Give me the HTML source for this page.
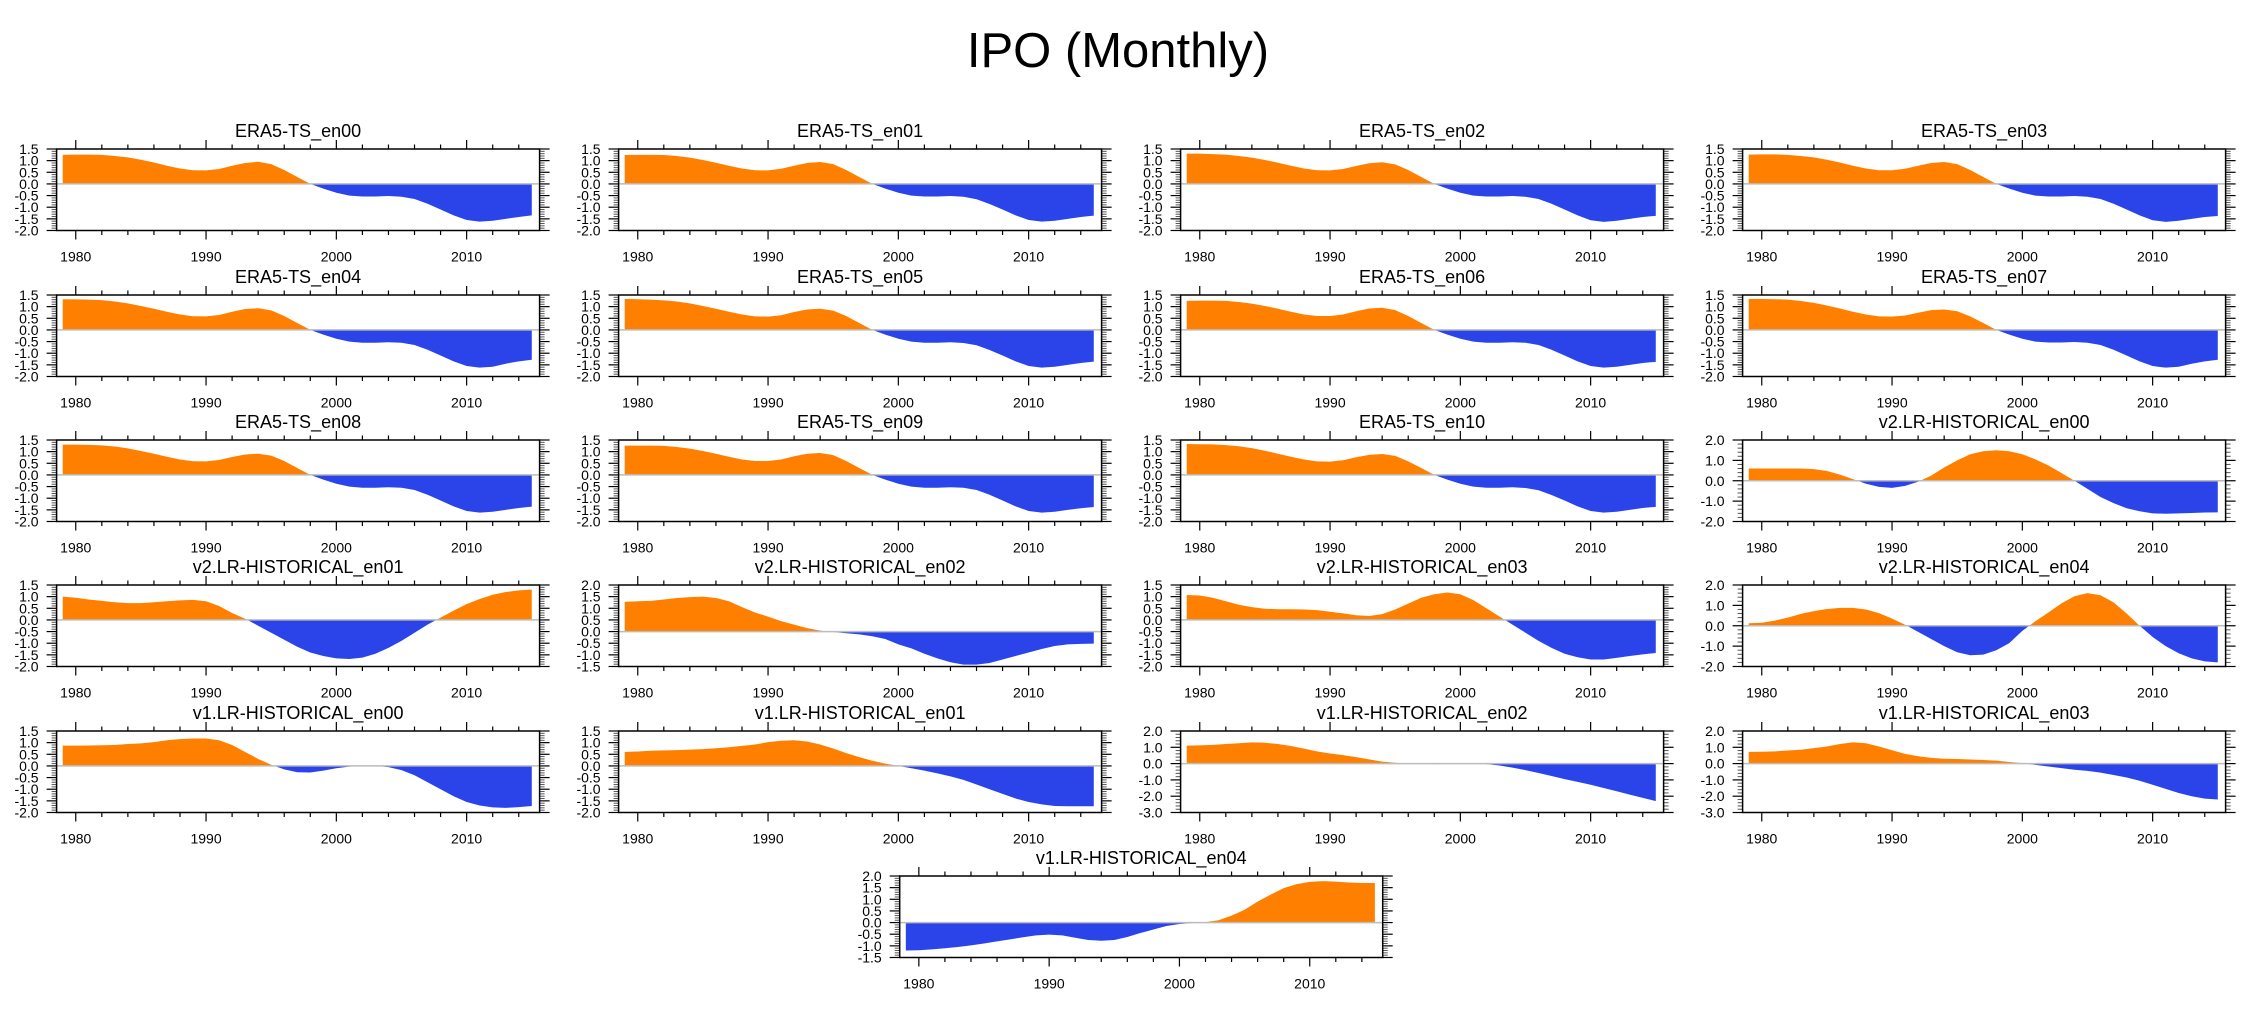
<!DOCTYPE html>
<html><head><meta charset="utf-8"><title>IPO (Monthly)</title>
<style>
html,body{margin:0;padding:0;background:#fff;}
svg{display:block;font-family:"Liberation Sans",Arial,sans-serif;}
</style></head>
<body>
<svg id="chart" xmlns="http://www.w3.org/2000/svg" width="2252" height="1016" viewBox="0 0 2252 1016">
<rect x="0" y="0" width="2252" height="1016" fill="#fff"/>
<text x="1118" y="67" font-size="49" text-anchor="middle" fill="#000">IPO (Monthly)</text>
</svg>
<script>
const years=[1979,1980,1981,1982,1983,1984,1985,1986,1987,1988,1989,1990,1991,1992,1993,1994,1995,1996,1997,1998,1999,2000,2001,2002,2003,2004,2005,2006,2007,2008,2009,2010,2011,2012,2013,2014,2015];
const xTickYears=[1980,1990,2000,2010];
const era5_en00=[1.25,1.26,1.26,1.25,1.2,1.14,1.04,0.92,0.78,0.66,0.59,0.58,0.64,0.78,0.9,0.95,0.85,0.6,0.3,0.0,-0.2,-0.38,-0.5,-0.54,-0.54,-0.52,-0.55,-0.65,-0.85,-1.1,-1.35,-1.55,-1.62,-1.58,-1.5,-1.42,-1.35];
const era5_en01=[1.24,1.25,1.25,1.24,1.2,1.13,1.03,0.91,0.78,0.66,0.59,0.58,0.65,0.78,0.9,0.94,0.85,0.6,0.3,0.0,-0.2,-0.38,-0.5,-0.54,-0.54,-0.52,-0.55,-0.66,-0.86,-1.1,-1.35,-1.55,-1.62,-1.58,-1.5,-1.42,-1.36];
const era5_en02=[1.3,1.3,1.28,1.26,1.2,1.13,1.03,0.91,0.78,0.66,0.59,0.58,0.64,0.77,0.89,0.93,0.84,0.6,0.3,0.0,-0.2,-0.38,-0.5,-0.54,-0.54,-0.52,-0.55,-0.65,-0.85,-1.1,-1.35,-1.56,-1.63,-1.58,-1.5,-1.42,-1.37];
const era5_en03=[1.26,1.27,1.27,1.25,1.2,1.14,1.04,0.92,0.78,0.66,0.59,0.59,0.65,0.78,0.9,0.94,0.85,0.6,0.3,0.0,-0.2,-0.38,-0.5,-0.54,-0.54,-0.52,-0.55,-0.65,-0.85,-1.1,-1.35,-1.56,-1.63,-1.58,-1.5,-1.42,-1.38];
const era5_en04=[1.32,1.31,1.3,1.28,1.22,1.14,1.03,0.91,0.78,0.66,0.59,0.58,0.64,0.78,0.9,0.93,0.84,0.6,0.3,0.0,-0.2,-0.38,-0.5,-0.55,-0.55,-0.53,-0.55,-0.65,-0.85,-1.1,-1.35,-1.55,-1.62,-1.58,-1.45,-1.35,-1.28];
const era5_en05=[1.33,1.32,1.3,1.27,1.22,1.14,1.03,0.91,0.78,0.66,0.58,0.57,0.63,0.77,0.88,0.91,0.83,0.6,0.3,0.0,-0.2,-0.38,-0.5,-0.55,-0.55,-0.53,-0.56,-0.66,-0.86,-1.1,-1.35,-1.55,-1.62,-1.58,-1.5,-1.42,-1.36];
const era5_en06=[1.25,1.26,1.26,1.25,1.2,1.13,1.03,0.91,0.78,0.66,0.6,0.6,0.66,0.8,0.92,0.95,0.85,0.6,0.3,0.0,-0.2,-0.38,-0.5,-0.55,-0.55,-0.53,-0.55,-0.65,-0.85,-1.1,-1.35,-1.55,-1.62,-1.58,-1.5,-1.42,-1.37];
const era5_en07=[1.33,1.33,1.32,1.3,1.24,1.16,1.05,0.92,0.78,0.66,0.58,0.57,0.62,0.74,0.85,0.88,0.8,0.58,0.3,0.0,-0.2,-0.38,-0.5,-0.54,-0.54,-0.52,-0.55,-0.65,-0.85,-1.1,-1.35,-1.55,-1.62,-1.58,-1.45,-1.35,-1.28];
const era5_en08=[1.3,1.3,1.29,1.27,1.22,1.14,1.03,0.91,0.78,0.66,0.59,0.58,0.64,0.77,0.88,0.91,0.83,0.6,0.3,0.0,-0.2,-0.38,-0.5,-0.55,-0.55,-0.53,-0.55,-0.65,-0.85,-1.1,-1.35,-1.55,-1.62,-1.58,-1.5,-1.42,-1.36];
const era5_en09=[1.26,1.26,1.26,1.25,1.2,1.13,1.03,0.91,0.78,0.66,0.6,0.6,0.66,0.8,0.91,0.94,0.85,0.6,0.3,0.0,-0.2,-0.38,-0.5,-0.55,-0.55,-0.53,-0.55,-0.65,-0.85,-1.1,-1.35,-1.55,-1.62,-1.58,-1.5,-1.43,-1.38];
const era5_en10=[1.33,1.32,1.31,1.28,1.23,1.15,1.04,0.91,0.78,0.66,0.58,0.57,0.63,0.76,0.86,0.9,0.82,0.58,0.3,0.0,-0.2,-0.38,-0.5,-0.55,-0.55,-0.53,-0.56,-0.66,-0.86,-1.1,-1.35,-1.55,-1.62,-1.58,-1.5,-1.42,-1.37];
const v2_en00=[0.6,0.6,0.6,0.6,0.6,0.57,0.48,0.3,0.08,-0.15,-0.3,-0.35,-0.25,-0.05,0.25,0.65,1.0,1.3,1.45,1.5,1.45,1.3,1.05,0.75,0.38,0.0,-0.4,-0.8,-1.1,-1.35,-1.5,-1.6,-1.62,-1.6,-1.58,-1.56,-1.55];
const v2_en01=[1.0,0.95,0.88,0.82,0.76,0.72,0.72,0.76,0.8,0.84,0.86,0.8,0.6,0.3,0.05,-0.25,-0.55,-0.85,-1.15,-1.4,-1.55,-1.65,-1.68,-1.62,-1.45,-1.2,-0.9,-0.55,-0.2,0.1,0.4,0.68,0.9,1.08,1.2,1.27,1.3];
const v2_en02=[1.28,1.3,1.32,1.38,1.44,1.48,1.5,1.44,1.3,1.05,0.82,0.64,0.45,0.3,0.15,0.04,-0.02,-0.07,-0.12,-0.2,-0.32,-0.55,-0.72,-0.95,-1.15,-1.32,-1.42,-1.42,-1.35,-1.2,-1.05,-0.9,-0.75,-0.62,-0.55,-0.53,-0.52];
const v2_en03=[1.07,1.05,0.95,0.8,0.65,0.55,0.48,0.46,0.46,0.45,0.42,0.35,0.28,0.2,0.17,0.25,0.45,0.7,0.95,1.1,1.18,1.1,0.85,0.5,0.15,-0.2,-0.55,-0.9,-1.2,-1.45,-1.6,-1.7,-1.7,-1.63,-1.55,-1.48,-1.42];
const v2_en04=[0.12,0.15,0.25,0.4,0.58,0.72,0.82,0.88,0.88,0.8,0.62,0.35,0.05,-0.3,-0.65,-1.0,-1.3,-1.45,-1.42,-1.2,-0.85,-0.25,0.22,0.65,1.1,1.45,1.6,1.5,1.15,0.6,0.0,-0.55,-1.0,-1.35,-1.6,-1.75,-1.8];
const v1_en00=[0.87,0.87,0.88,0.89,0.9,0.94,0.97,1.02,1.1,1.15,1.18,1.18,1.1,0.9,0.6,0.3,0.05,-0.15,-0.27,-0.28,-0.2,-0.1,-0.03,0.0,0.0,-0.05,-0.18,-0.4,-0.7,-1.0,-1.3,-1.55,-1.7,-1.78,-1.8,-1.77,-1.72];
const v1_en01=[0.6,0.62,0.65,0.67,0.68,0.7,0.72,0.76,0.8,0.86,0.92,1.02,1.08,1.1,1.05,0.92,0.75,0.55,0.38,0.22,0.1,0.0,-0.1,-0.2,-0.32,-0.45,-0.6,-0.8,-1.0,-1.2,-1.4,-1.55,-1.65,-1.72,-1.73,-1.73,-1.73];
const v1_en02=[1.1,1.12,1.15,1.2,1.25,1.3,1.28,1.2,1.08,0.92,0.75,0.62,0.52,0.4,0.26,0.12,0.05,0.01,-0.02,-0.03,-0.02,0.02,0.02,-0.03,-0.12,-0.25,-0.4,-0.58,-0.76,-0.95,-1.12,-1.3,-1.5,-1.7,-1.9,-2.1,-2.3];
const v1_en03=[0.72,0.73,0.75,0.8,0.85,0.95,1.05,1.2,1.3,1.25,1.05,0.82,0.6,0.45,0.35,0.3,0.28,0.25,0.22,0.18,0.1,0.03,-0.08,-0.18,-0.28,-0.38,-0.45,-0.55,-0.7,-0.85,-1.05,-1.3,-1.55,-1.8,-2.0,-2.15,-2.2];
const v1_en04=[-1.2,-1.19,-1.15,-1.1,-1.05,-0.98,-0.9,-0.81,-0.72,-0.63,-0.55,-0.52,-0.55,-0.65,-0.75,-0.78,-0.75,-0.62,-0.45,-0.3,-0.15,-0.06,-0.02,0.02,0.1,0.3,0.55,0.9,1.2,1.48,1.65,1.75,1.78,1.76,1.72,1.7,1.7];
const panelTitles=["ERA5-TS_en00","ERA5-TS_en01","ERA5-TS_en02","ERA5-TS_en03","ERA5-TS_en04","ERA5-TS_en05","ERA5-TS_en06","ERA5-TS_en07","ERA5-TS_en08","ERA5-TS_en09","ERA5-TS_en10","v2.LR-HISTORICAL_en00","v2.LR-HISTORICAL_en01","v2.LR-HISTORICAL_en02","v2.LR-HISTORICAL_en03","v2.LR-HISTORICAL_en04","v1.LR-HISTORICAL_en00","v1.LR-HISTORICAL_en01","v1.LR-HISTORICAL_en02","v1.LR-HISTORICAL_en03","v1.LR-HISTORICAL_en04"];
const panelSeries=[era5_en00,era5_en01,era5_en02,era5_en03,era5_en04,era5_en05,era5_en06,era5_en07,era5_en08,era5_en09,era5_en10,v2_en00,v2_en01,v2_en02,v2_en03,v2_en04,v1_en00,v1_en01,v1_en02,v1_en03,v1_en04];
const yMins=[-2,-2,-2,-2,-2,-2,-2,-2,-2,-2,-2,-2,-2,-1.5,-2,-2,-2,-2,-3,-3,-1.5];
const yMaxs=[1.5,1.5,1.5,1.5,1.5,1.5,1.5,1.5,1.5,1.5,1.5,2,1.5,2,1.5,2,1.5,1.5,2,2,2];
const ySteps=[0.5,0.5,0.5,0.5,0.5,0.5,0.5,0.5,0.5,0.5,0.5,1,0.5,0.5,0.5,1,0.5,0.5,1,1,0.5];

const NS="http://www.w3.org/2000/svg";
const svg=document.getElementById('chart');
const ROWS=[149,295,440,585,731,876];
const PW=483,PH=81.5,XMIN=1978.53,XMAX=2015.6;
function mk(tag,attrs,parent){const e=document.createElementNS(NS,tag);for(const k in attrs)e.setAttribute(k,attrs[k]);(parent||svg).appendChild(e);return e;}

panelSeries.forEach((data,i)=>{
  let col=i%4,row=Math.floor(i/4),x0;
  if(i===20){x0=899.7;row=5;}else{x0=56.6+562*col;}
  const y0=ROWS[row];
  const ymin=yMins[i],ymax=yMaxs[i],step=ySteps[i];
  const sx=v=>x0+(v-XMIN)/(XMAX-XMIN)*PW;
  const sy=v=>y0+(ymax-v)/(ymax-ymin)*PH;
  const g=mk('g',{});
  
  
  const t=mk('text',{x:x0+PW/2,y:y0-12,'font-size':18,'text-anchor':'middle',fill:'#000'},g);
  t.textContent=panelTitles[i];
  
  
  const z=sy(0);
  const cpPos=mk('clipPath',{id:'cp'+i},g);
  mk('rect',{x:x0,y:y0,width:PW,height:z-y0},cpPos);
  const cpNeg=mk('clipPath',{id:'cn'+i},g);
  mk('rect',{x:x0,y:z,width:PW,height:y0+PH-z},cpNeg);
  let pts=sx(years[0]).toFixed(2)+','+z.toFixed(2)+' ';
  years.forEach((yr,k)=>{pts+=sx(yr).toFixed(2)+','+sy(data[k]).toFixed(2)+' ';});
  pts+=sx(years[years.length-1]).toFixed(2)+','+z.toFixed(2);
  const ap=mk('polygon',{points:pts,fill:'#ff8000','clip-path':'url(#cp'+i+')'},g);
  
  
  const an=mk('polygon',{points:pts,fill:'#2a44ea','clip-path':'url(#cn'+i+')'},g);
  
  
  const zl=mk('line',{x1:x0,x2:x0+PW,y1:z,y2:z,stroke:'#bcbcbc','stroke-width':1.5},g);
  
  
  const nMaj=Math.round((ymax-ymin)/step);
  for(let k=0;k<=nMaj;k++){
    const v=ymin+k*step, y=sy(v);
    mk('line',{x1:x0-10,x2:x0,y1:y,y2:y,stroke:'#000','stroke-width':1.2},g);
    mk('line',{x1:x0+PW,x2:x0+PW+10,y1:y,y2:y,stroke:'#000','stroke-width':1.2},g);
    const lb=mk('text',{x:x0-18,y:y+5,'font-size':14,'text-anchor':'end',fill:'#000'},g);
    lb.textContent=v.toFixed(1);
    
    
    if(k<nMaj){for(let m=1;m<5;m++){const ym=sy(v+step*m/5);
      mk('line',{x1:x0-5,x2:x0,y1:ym,y2:ym,stroke:'#555','stroke-width':1},g);
      mk('line',{x1:x0+PW,x2:x0+PW+5,y1:ym,y2:ym,stroke:'#555','stroke-width':1},g);}}
  }
  for(let yr=1980;yr<=2014;yr+=2){
    const x=sx(yr),maj=(yr%10===0),L=maj?9:4.5;
    mk('line',{x1:x,x2:x,y1:y0-L,y2:y0,stroke:'#000','stroke-width':1.2},g);
    mk('line',{x1:x,x2:x,y1:y0+PH,y2:y0+PH+L,stroke:'#000','stroke-width':1.2},g);
  }
  xTickYears.forEach(yr=>{
    const lb=mk('text',{x:sx(yr),y:y0+PH+31,'font-size':14,'text-anchor':'middle',fill:'#000'},g);
    lb.textContent=String(yr);
    
    
  });
  const fr=mk('rect',{x:x0,y:y0,width:PW,height:PH,fill:'none',stroke:'#000','stroke-width':1.5},g);
  
  
});
</script>
</body></html>
